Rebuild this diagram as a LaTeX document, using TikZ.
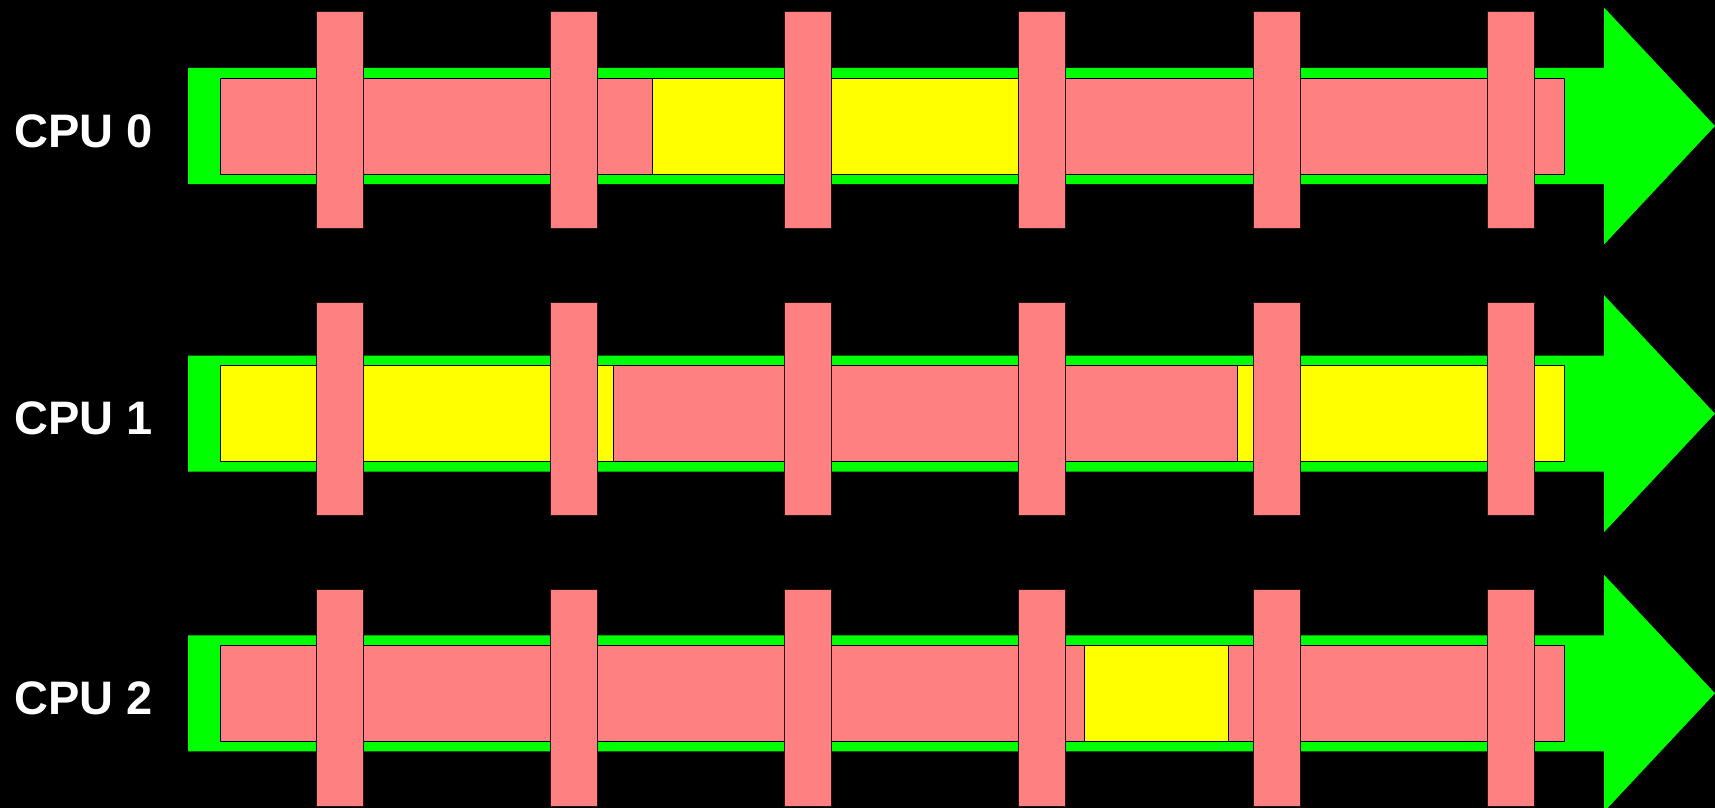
\documentclass[tikz,border=0pt]{standalone}
\usepackage{fontspec}
\setmainfont{Liberation Sans}
\definecolor{pinkc}{HTML}{FF8080}
\definecolor{yelc}{HTML}{FFFF00}
\definecolor{grnc}{HTML}{00FF00}
\tikzset{
  arrowbody/.style={fill=grnc, draw=none},
  segpink/.style={fill=pinkc, draw=black, line width=0.9pt},
  segyel/.style={fill=yelc, draw=black, line width=0.9pt},
  tick/.style={fill=pinkc, draw=black!60!pinkc!40!black, line width=0.9pt},
  cpulabel/.style={text=white, font=\bfseries\fontsize{47}{50}\selectfont, anchor=base west, inner sep=0pt}
}
\begin{document}
\begin{tikzpicture}[x=1pt, y=-1pt]
\useasboundingbox (0,0) rectangle (1715,808);
\fill[black] (0,0) rectangle (1715,808);
\foreach \rg/\rbt/\rbb/\rlab/\rsegs in {
  68/11/228/0/{220/652/segpink,652/1019/segyel,1019/1564/segpink},
  355.7/302.3/515.7/1/{220/613/segyel,613/1237/segpink,1237/1564/segyel},
  635.3/589.3/806.7/2/{220/1084/segpink,1084/1228/segyel,1228/1564/segpink}}{
  \pgfmathsetmacro{\rowc}{\rg+58}
  \pgfmathsetmacro{\rowgb}{\rg+116}
  \pgfmathsetmacro{\rowht}{\rowc-118.5}
  \pgfmathsetmacro{\rowhb}{\rowc+118.5}
  \pgfmathsetmacro{\rowit}{\rg+10}
  \pgfmathsetmacro{\rowib}{\rg+106}
  \pgfmathsetmacro{\rowbase}{\rowc+21}
  \fill[arrowbody] (188,\rg) -- (1604,\rg) -- (1604,\rowht) -- (1715,\rowc) -- (1604,\rowhb) -- (1604,\rowgb) -- (188,\rowgb) -- cycle;
  \foreach \xa/\xb/\st in \rsegs {
    \draw[\st] (\xa,\rowit) rectangle (\xb,\rowib);
  }
  \foreach \k in {0,...,5} {
    \pgfmathsetmacro{\xl}{316+234.3*\k}
    \pgfmathsetmacro{\xr}{\xl+47}
    \draw[tick] (\xl,\rbt) rectangle (\xr,\rbb);
  }
  \node[cpulabel] (cpu\rlab) at (14,\rowbase) {CPU \rlab};
}
\end{tikzpicture}
\end{document}
